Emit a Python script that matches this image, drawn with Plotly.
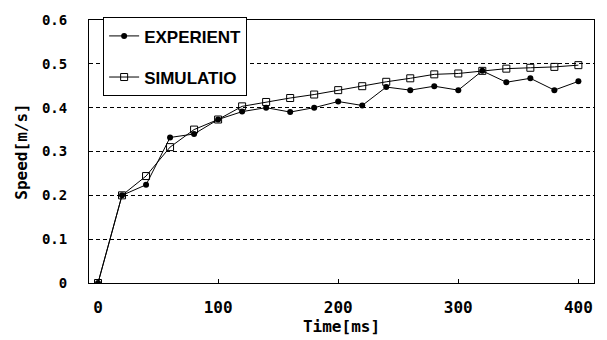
import plotly.graph_objects as go

time_ms = [0, 20, 40, 60, 80, 100, 120, 140, 160, 180, 200, 220, 240, 260, 280, 300, 320, 340, 360, 380, 400]
experiment = [0, 0.200, 0.224, 0.332, 0.340, 0.373, 0.391, 0.400, 0.390, 0.400, 0.414, 0.405, 0.447, 0.440, 0.449, 0.440, 0.484, 0.458, 0.467, 0.440, 0.460]
simulation = [0, 0.200, 0.244, 0.310, 0.350, 0.373, 0.403, 0.413, 0.422, 0.430, 0.440, 0.449, 0.459, 0.467, 0.476, 0.478, 0.484, 0.489, 0.491, 0.493, 0.497]

fig = go.Figure()
fig.add_trace(go.Scatter(
    x=time_ms, y=experiment, name="EXPERIENT", mode="lines+markers",
    line=dict(color="black", width=1),
    marker=dict(symbol="circle", size=6, color="black"),
    legendgroup="a",
))
fig.add_trace(go.Scatter(
    x=time_ms, y=simulation, name="SIMULATIO", mode="lines+markers",
    line=dict(color="black", width=1),
    marker=dict(symbol="square-open", size=7, color="black", line=dict(width=1)),
    legendgroup="b",
))

fig.update_layout(
    width=607, height=340,
    margin=dict(l=89, r=13, t=12, b=55),
    paper_bgcolor="white", plot_bgcolor="white",
    font=dict(family="Liberation Sans", color="black"),
    showlegend=True,
    legend=dict(
        x=0.028, y=1.01, xanchor="left", yanchor="top",
        bordercolor="black", borderwidth=1, bgcolor="white",
        font=dict(family="Liberation Sans", size=17, color="black", weight="bold"),
        tracegroupgap=16,
        itemwidth=30,
    ),
    xaxis=dict(
        range=[-7.5, 413], tickmode="array", tickvals=[0, 100, 200, 300, 400],
        showgrid=False, zeroline=False,
        showline=True, linecolor="black", linewidth=1, mirror=True,
        ticks="inside", ticklen=4, tickcolor="black",
        tickfont=dict(family="DejaVu Sans Mono", size=16, weight="bold"),
        ticklabelstandoff=10,
        title=dict(text="Time[ms]", font=dict(family="DejaVu Sans Mono", size=16, weight="bold"), standoff=0),
    ),
    yaxis=dict(
        range=[0, 0.6], tickmode="array", tickvals=[0, 0.1, 0.2, 0.3, 0.4, 0.5, 0.6],
        ticktext=["0", "0.1", "0.2", "0.3", "0.4", "0.5", "0.6"],
        showgrid=True, gridcolor="black", gridwidth=1.3, griddash="4px,3px",
        zeroline=False,
        showline=True, linecolor="black", linewidth=1, mirror=True,
        ticks="",
        tickfont=dict(family="DejaVu Sans Mono", size=14, weight="bold"),
        ticklabelstandoff=18,
        title=dict(text="Speed[m/s]", font=dict(family="DejaVu Sans Mono", size=16, weight="bold"), standoff=10),
    ),
)

fig.write_html("out.html")
